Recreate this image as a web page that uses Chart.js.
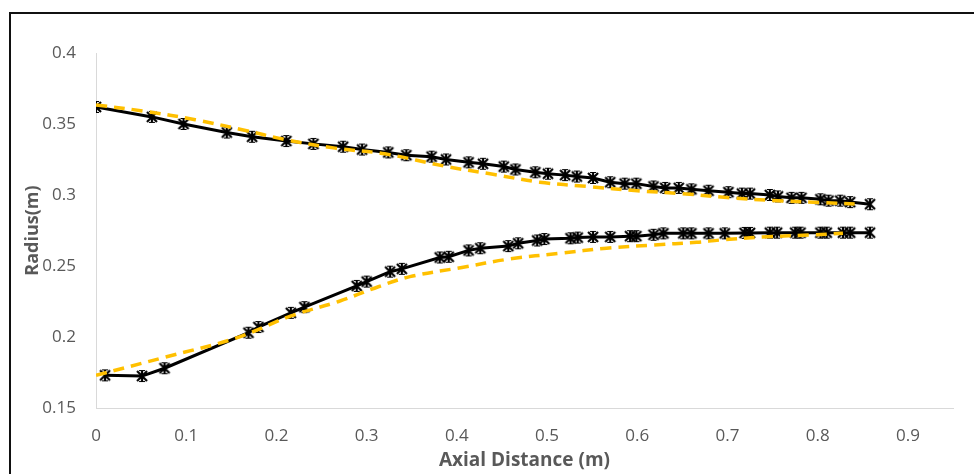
<!DOCTYPE html>
<html>
<head>
<meta charset="utf-8">
<script src="https://cdn.jsdelivr.net/npm/chart.js@4"></script>
<style>
  body { margin: 0; background: #fff; overflow: hidden; }
  #wrap { position: relative; width: 974px; height: 474px; overflow: hidden; }
  #frame { position: absolute; left: 9px; top: 12px; width: 1000px; height: 500px; border: 2px solid #111; box-sizing: border-box; }
  canvas { position: absolute; left: 0; top: 0; }
</style>
</head>
<body>
<div id="wrap">
  <div id="frame"></div>
  <canvas id="myChart" width="974" height="474"></canvas>
</div>
<script>
// measured profile (black, with markers)
var upperX = [0, 0.062, 0.097, 0.145, 0.173, 0.211, 0.241, 0.274, 0.295, 0.324,
              0.344, 0.372, 0.388, 0.413, 0.429, 0.452, 0.465, 0.487, 0.501, 0.520,
              0.533, 0.551, 0.570, 0.586, 0.599, 0.618, 0.631, 0.646, 0.660, 0.679,
              0.701, 0.716, 0.725, 0.747, 0.756, 0.771, 0.782, 0.803, 0.812, 0.825,
              0.836, 0.858];
var upperY = [0.362, 0.355, 0.350, 0.344, 0.341, 0.338, 0.336, 0.334, 0.332, 0.330,
              0.328, 0.327, 0.325, 0.323, 0.322, 0.320, 0.318, 0.316, 0.315, 0.314,
              0.313, 0.312, 0.309, 0.308, 0.308, 0.306, 0.305, 0.305, 0.304, 0.303,
              0.302, 0.301, 0.301, 0.300, 0.299, 0.298, 0.298, 0.297, 0.296, 0.296,
              0.295, 0.2935];
var lowerX = [0.010, 0.051, 0.076, 0.169, 0.180, 0.216, 0.231, 0.289, 0.300, 0.326,
              0.339, 0.381, 0.391, 0.413, 0.426, 0.457, 0.468, 0.489, 0.497, 0.526,
              0.534, 0.551, 0.570, 0.592, 0.599, 0.618, 0.629, 0.651, 0.660, 0.679,
              0.697, 0.719, 0.725, 0.747, 0.755, 0.775, 0.781, 0.803, 0.810, 0.828,
              0.836, 0.858];
var lowerY = [0.173, 0.1725, 0.178, 0.203, 0.207, 0.217, 0.221, 0.236, 0.239, 0.246,
              0.248, 0.256, 0.2565, 0.261, 0.2625, 0.264, 0.266, 0.268, 0.269, 0.2695,
              0.270, 0.2705, 0.2705, 0.271, 0.271, 0.272, 0.273, 0.273, 0.273, 0.273,
              0.273, 0.2733, 0.2733, 0.2735, 0.2735, 0.2735, 0.2735, 0.2735, 0.2735, 0.2735,
              0.2735, 0.2735];

// reference profile (yellow dashed)
var refUpperX = [0, 0.054, 0.110, 0.162, 0.210, 0.265, 0.320, 0.389, 0.440, 0.492, 0.545, 0.600, 0.649, 0.703, 0.755, 0.808, 0.841];
var refUpperY = [0.3634, 0.359, 0.353, 0.346, 0.339, 0.333, 0.329, 0.320, 0.3146, 0.309, 0.306, 0.303, 0.301, 0.298, 0.296, 0.2946, 0.2937];
var refLowerX = [0, 0.076, 0.154, 0.217, 0.269, 0.313, 0.348, 0.404, 0.459, 0.515, 0.566, 0.618, 0.666, 0.692, 0.744, 0.792, 0.828];
var refLowerY = [0.173, 0.1857, 0.199, 0.215, 0.225, 0.2354, 0.2425, 0.2488, 0.255, 0.259, 0.2625, 0.2648, 0.2667, 0.2683, 0.2706, 0.2718, 0.273];

var xTicks = [0, 0.1, 0.2, 0.3, 0.4, 0.5, 0.6, 0.7, 0.8, 0.9];
var yTicks = [0.15, 0.2, 0.25, 0.3, 0.35, 0.4];

function toPoints(xs, ys) {
    return xs.map(function (x, i) { return { x: x, y: ys[i] }; });
}

// excel-like star marker
function makeStar() {
    var c = document.createElement('canvas');
    c.width = 14; c.height = 14;
    var g = c.getContext('2d');
    g.strokeStyle = '#000';
    g.lineWidth = 2.2;
    g.beginPath();
    g.moveTo(2, 2); g.lineTo(12, 12);
    g.moveTo(12, 2); g.lineTo(2, 12);
    g.moveTo(7, 1); g.lineTo(7, 13);
    g.stroke();
    g.lineWidth = 1.2;
    g.beginPath();
    g.moveTo(4, 1.5); g.lineTo(10, 1.5);
    g.moveTo(4, 12.5); g.lineTo(10, 12.5);
    g.stroke();
    return c;
}
var star = makeStar();

var fontFamily = "'Open Sans', Lato, sans-serif";
var grey = '#595959';

var yellowStyle = {
    borderColor: '#FFC000',
    borderWidth: 3.5,
    borderDash: [11, 7],
    pointRadius: 0,
    showLine: true,
    tension: 0.35,
    fill: false
};
var blackStyle = {
    borderColor: '#000',
    backgroundColor: '#000',
    borderWidth: 3,
    pointStyle: star,
    pointRadius: 7,
    showLine: true,
    tension: 0,
    fill: false
};

const ctx = document.getElementById('myChart');
var myChart = new Chart(ctx, {
    type: 'scatter',
    data: {
        datasets: [
            Object.assign({ label: 'ref upper', data: toPoints(refUpperX, refUpperY) }, yellowStyle),
            Object.assign({ label: 'ref lower', data: toPoints(refLowerX, refLowerY) }, yellowStyle),
            Object.assign({ label: 'upper', data: toPoints(upperX, upperY) }, blackStyle),
            Object.assign({ label: 'lower', data: toPoints(lowerX, lowerY) }, blackStyle)
        ]
    },
    options: {
        responsive: false,
        animation: false,
        layout: { padding: { left: 15, right: 21, top: 53, bottom: 0 } },
        plugins: { legend: { display: false }, tooltip: { enabled: false } },
        scales: {
            x: {
                type: 'linear',
                min: 0,
                max: 0.95,
                grid: { display: false, drawTicks: false },
                border: { display: true, color: '#d9d9d9', width: 1 },
                afterBuildTicks: function (scale) {
                    scale.ticks = xTicks.map(function (v) { return { value: v }; });
                },
                afterFit: function (scale) { scale.height = 66; },
                ticks: {
                    padding: 18,
                    color: grey,
                    font: { family: fontFamily, size: 17 },
                    callback: function (v) { return String(Math.round(v * 10) / 10); }
                },
                title: {
                    display: true,
                    text: 'Axial Distance (m)',
                    color: grey,
                    font: { family: fontFamily, size: 19, weight: 'bold' },
                    padding: { top: 0, bottom: 2 }
                }
            },
            y: {
                type: 'linear',
                min: 0.15,
                max: 0.4,
                grid: { display: false, drawTicks: false },
                border: { display: true, color: '#d9d9d9', width: 1 },
                afterBuildTicks: function (scale) {
                    scale.ticks = yTicks.map(function (v) { return { value: v }; });
                },
                afterFit: function (scale) { scale.width = 81; },
                ticks: {
                    padding: 20,
                    color: grey,
                    font: { family: fontFamily, size: 17 },
                    callback: function (v) { return String(Math.round(v * 100) / 100); }
                },
                title: {
                    display: true,
                    text: 'Radius(m)',
                    color: grey,
                    font: { family: fontFamily, size: 18, weight: 'bold' },
                    padding: { top: 7, bottom: 0 }
                }
            }
        }
    }
});
</script>
</body>
</html>
